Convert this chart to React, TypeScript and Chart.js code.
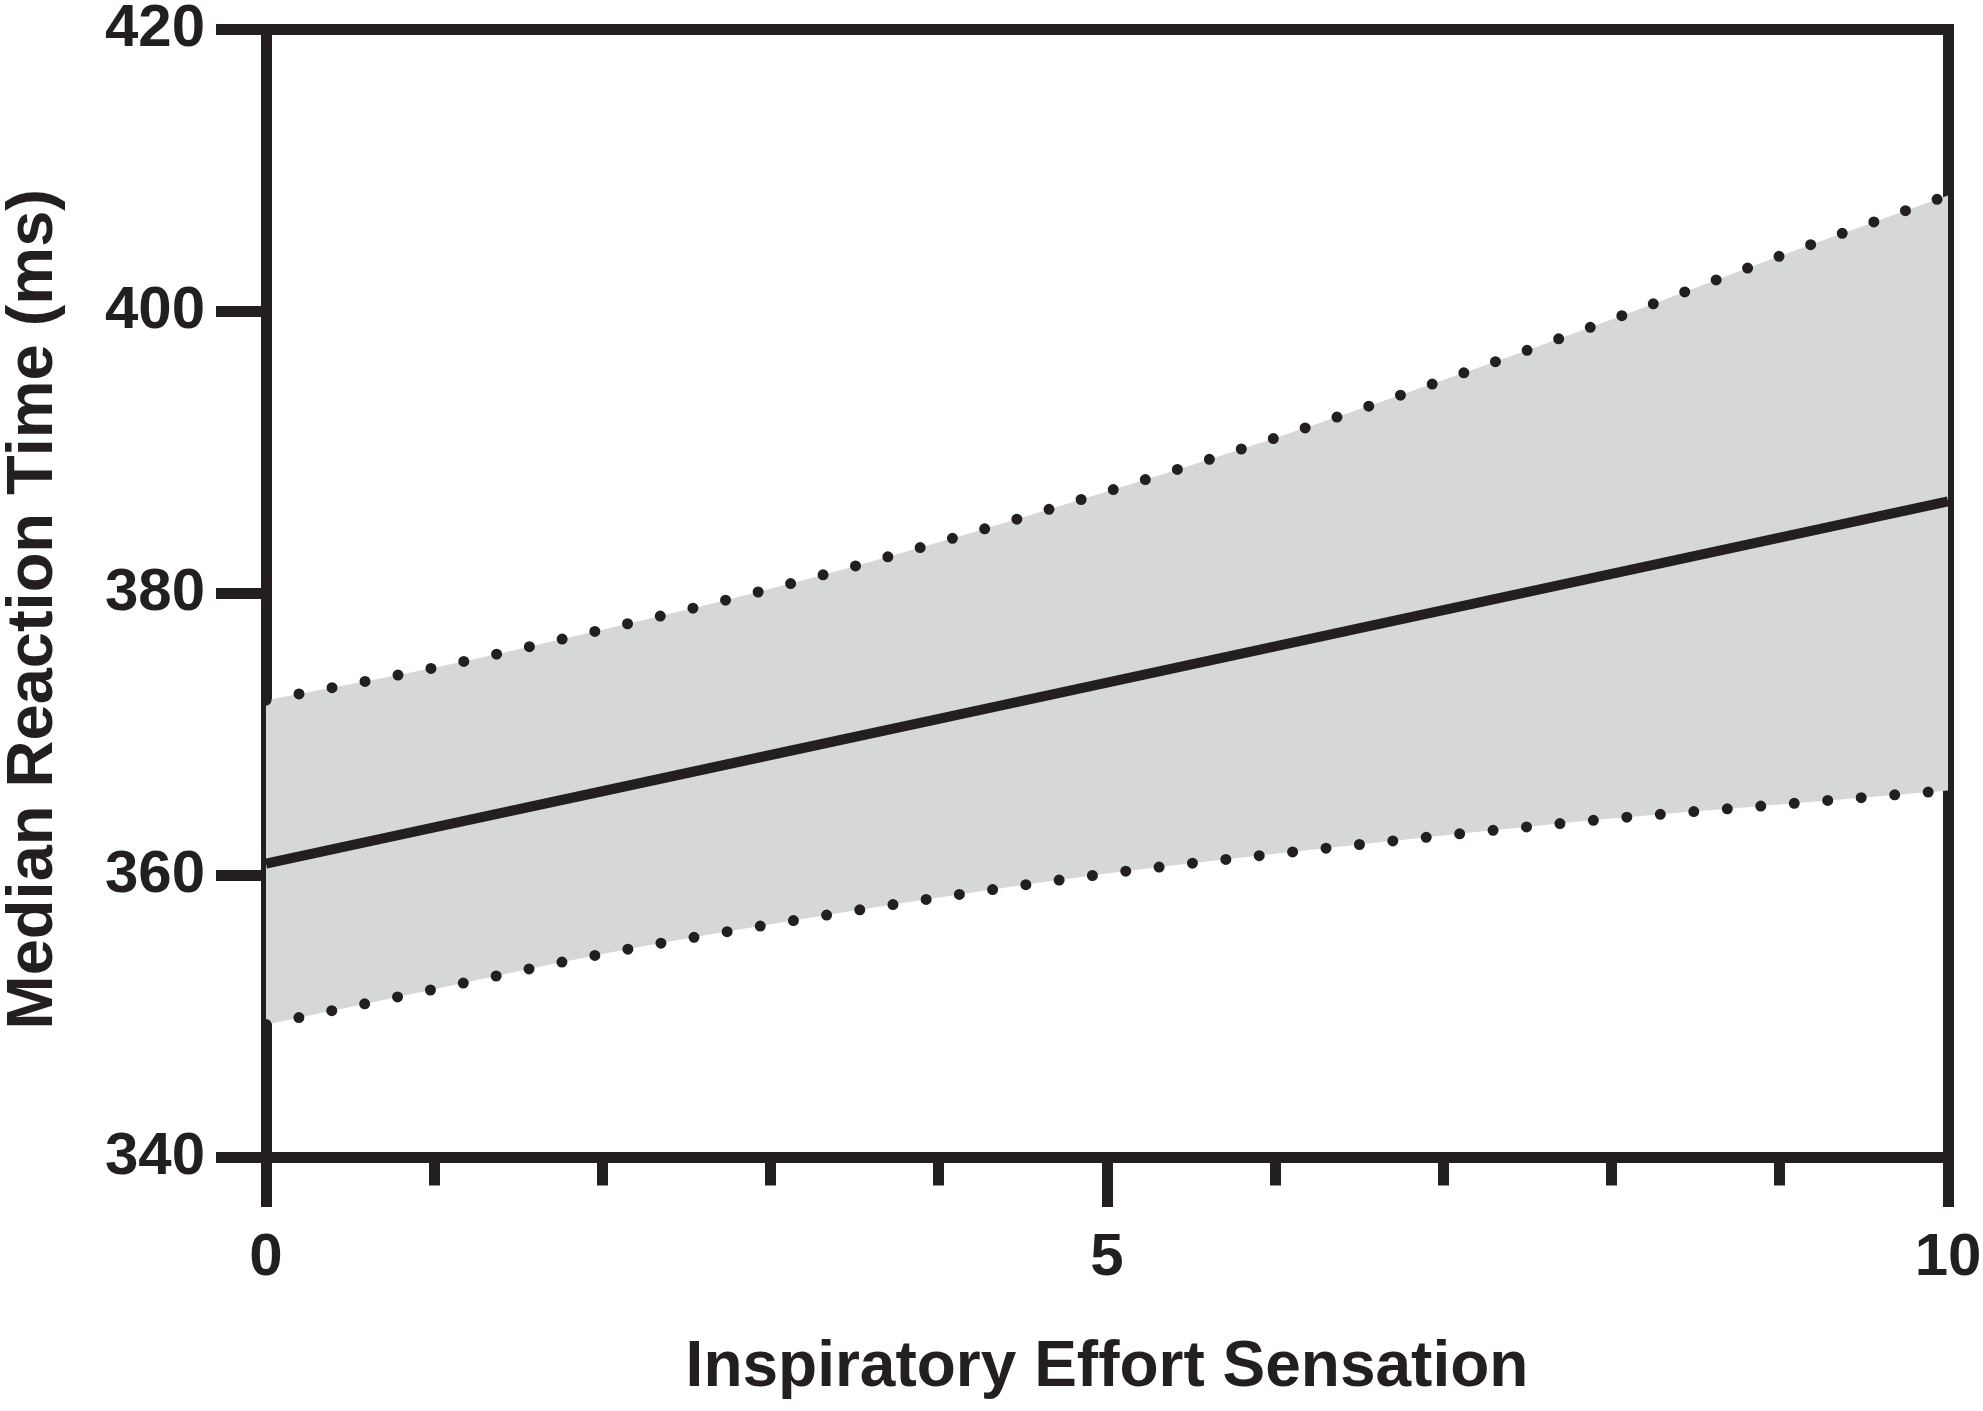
import React, { useEffect, useRef } from 'react';
import { Chart, registerables } from 'chart.js';

Chart.register(...registerables);

// ---- data ----
const effortLevels = [0, 1, 2, 3, 4, 5, 6, 7, 8, 9, 10];
const medianRT = [360.8, 363.37, 365.94, 368.51, 371.08, 373.65, 376.22, 378.79, 381.36, 383.93, 386.5];
const upperCI = [372.4, 374.7, 377.4, 380.3, 383.6, 387.2, 391.0, 395.1, 399.4, 403.9, 408.2];
const lowerCI = [349.4, 351.9, 354.4, 356.5, 358.4, 360.1, 361.5, 362.8, 364.0, 365.0, 366.0];
const xTickLabels = ['0', '5', '10'];
const yTickStep = 20;
const xTickStep = 1;

const INK = '#231f20';
const BAND = '#d6d7d9';
const AXIS_W = 11;
const FAMILY = '"Liberation Sans", Arial, Helvetica, sans-serif';

function fixBox(s: any, w?: number, h?: number) {
  if (w !== undefined) s.width = w;
  if (h !== undefined) s.height = h;
  s.paddingTop = 0;
  s.paddingBottom = 0;
  s.paddingLeft = 0;
  s.paddingRight = 0;
}

export default function App() {
  const ref = useRef<HTMLCanvasElement | null>(null);

  useEffect(() => {
    document.body.style.margin = '0';
    const canvas = ref.current;
    if (!canvas) return;

    const toPts = (ys: number[]) => effortLevels.map((x, i) => ({ x, y: ys[i] }));

    const tickFont = { family: FAMILY, size: 60, weight: 'bold' as const };
    const titleFontX = { family: FAMILY, size: 64, weight: 'bold' as const, lineHeight: 1.2 };
    const titleFontY = { family: FAMILY, size: 65, weight: 'bold' as const, lineHeight: 1.06 };

    const chart = new Chart(canvas, {
      type: 'line',
      data: {
        datasets: [
          {
            label: 'Upper',
            data: toPts(upperCI),
            borderColor: INK,
            borderWidth: 11,
            borderDash: [0, 33.6],
            borderCapStyle: 'round',
            backgroundColor: BAND,
            fill: '+1',
            pointRadius: 0,
            cubicInterpolationMode: 'monotone',
          },
          {
            label: 'Lower',
            data: toPts(lowerCI),
            borderColor: INK,
            borderWidth: 11,
            borderDash: [0, 33.6],
            borderCapStyle: 'round',
            fill: false,
            pointRadius: 0,
            cubicInterpolationMode: 'monotone',
          },
          {
            label: 'Median',
            data: toPts(medianRT),
            borderColor: INK,
            borderWidth: 10,
            fill: false,
            pointRadius: 0,
            tension: 0,
          },
        ],
      },
      options: {
        responsive: false,
        animation: false,
        events: [],
        layout: { padding: { top: 29, right: 35, bottom: 0, left: 0 }, autoPadding: false },
        plugins: {
          legend: { display: false },
          tooltip: { enabled: false },
          filler: { drawTime: 'beforeDatasetsDraw' },
        },
        scales: {
          x: {
            type: 'linear',
            position: 'bottom',
            min: 0,
            max: 10,
            z: 1,
            afterFit: (s: any) => fixBox(s, undefined, 254),
            border: { display: true, color: INK, width: AXIS_W },
            grid: {
              display: true,
              drawOnChartArea: false,
              drawTicks: true,
              tickLength: 50,
              lineWidth: AXIS_W,
              tickWidth: AXIS_W,
              color: INK,
              tickColor: INK,
              tickBorderDash: (c: any) => (c.tick && Math.round(c.tick.value) % 5 !== 0 ? [22.5, 3000] : []),
            },
            ticks: {
              stepSize: xTickStep,
              autoSkip: false,
              maxRotation: 0,
              minRotation: 0,
              padding: 15,
              color: INK,
              font: tickFont,
              callback: (v: any) => (xTickLabels.includes(String(v)) ? String(v) : ''),
            },
            title: {
              display: true,
              text: 'Inspiratory Effort Sensation',
              color: INK,
              font: titleFontX,
              padding: { top: 0, bottom: 4 },
            },
          },
          y: {
            type: 'linear',
            position: 'left',
            min: 340,
            max: 420,
            z: 1,
            afterFit: (s: any) => fixBox(s, 266, undefined),
            border: { display: true, color: INK, width: AXIS_W },
            grid: {
              display: true,
              drawOnChartArea: false,
              drawTicks: true,
              tickLength: 50,
              lineWidth: AXIS_W,
              tickWidth: AXIS_W,
              color: INK,
              tickColor: INK,
            },
            ticks: {
              stepSize: yTickStep,
              padding: 11,
              color: INK,
              font: tickFont,
            },
            title: {
              display: true,
              text: 'Median Reaction Time (ms)\u2002',
              color: INK,
              font: titleFontY,
              padding: 0,
            },
          },
          xTop: {
            type: 'linear',
            position: 'top',
            display: true,
            min: 0,
            max: 10,
            z: 1,
            afterFit: (s: any) => fixBox(s, undefined, 0),
            border: { display: true, color: INK, width: AXIS_W },
            grid: { display: false, drawTicks: false, lineWidth: AXIS_W },
            ticks: { display: false },
          },
          yRight: {
            type: 'linear',
            position: 'right',
            display: true,
            min: 340,
            max: 420,
            z: 1,
            afterFit: (s: any) => fixBox(s, 0, undefined),
            border: { display: true, color: INK, width: AXIS_W },
            grid: { display: false, drawTicks: false, lineWidth: AXIS_W },
            ticks: { display: false },
          },
        },
      } as any,
    });

    return () => chart.destroy();
  }, []);

  return (
    <div style={{ width: 1983, height: 1411, background: '#fff' }}>
      <canvas ref={ref} width={1983} height={1411} style={{ display: 'block', width: 1983, height: 1411 }} />
    </div>
  );
}
